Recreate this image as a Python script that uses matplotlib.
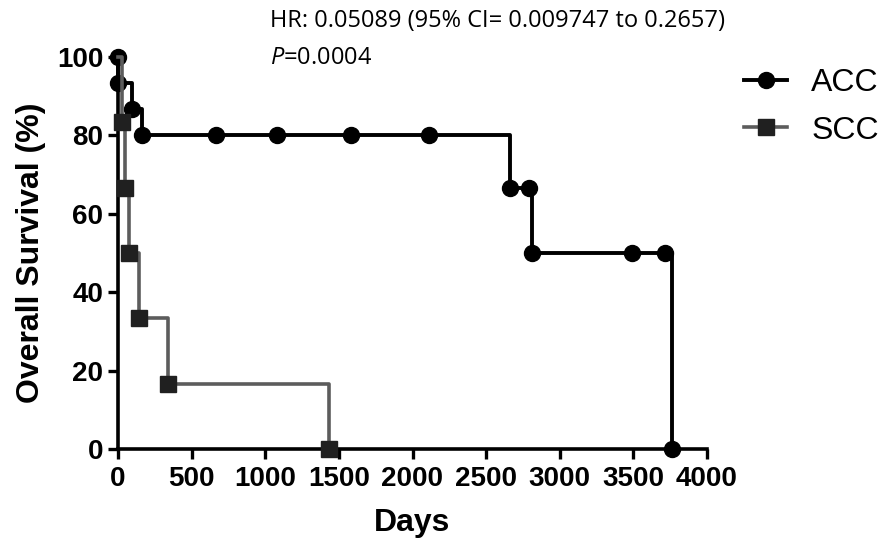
import matplotlib as mpl
mpl.use('Agg')
import matplotlib.pyplot as plt
from matplotlib.lines import Line2D

# Kaplan-Meier steps (days, survival %)
acc_days = [0, 0, 92, 165, 665, 1080, 1580, 2110, 2665, 2790, 2810, 3490, 3715, 3760]
acc_surv = [100, 93.33, 86.67, 80, 80, 80, 80, 80, 66.67, 66.67, 50, 50, 50, 0]

scc_days = [0, 28, 48, 72, 145, 342, 1430]
scc_surv = [100, 83.33, 66.67, 50, 33.33, 16.67, 0]

xticks = [0, 500, 1000, 1500, 2000, 2500, 3000, 3500, 4000]
yticks = [0, 20, 40, 60, 80, 100]

hr_text = "HR: 0.05089 (95% CI= 0.009747 to 0.2657)"
p_text = r"$\mathit{P}$=0.0004"

plt.rcParams['mathtext.fontset'] = 'custom'
plt.rcParams['mathtext.rm'] = 'Open Sans'
plt.rcParams['mathtext.it'] = 'Open Sans:italic'

acc_col = 'black'
scc_col = '#5c5c5c'
scc_mark = '#202020'

fig = plt.figure(figsize=(8.83, 5.46), dpi=100)
ax = fig.add_axes([118/883, 1 - 449/546, (707 - 118)/883, (449 - 57)/546])

ax.step(acc_days, acc_surv, where='post', color=acc_col, lw=2.8, clip_on=False, zorder=3)
ax.plot(acc_days, acc_surv, 'o', color=acc_col, ms=11.5, clip_on=False, zorder=4)

ax.step(scc_days, scc_surv, where='post', color=scc_col, lw=2.6, clip_on=False, zorder=5)
ax.plot(scc_days[1:], scc_surv[1:], 's', color=scc_mark, ms=11, clip_on=False, zorder=6)

ax.set_xlim(0, 4000)
ax.set_ylim(0, 100)
ax.set_xticks(xticks)
ax.set_yticks(yticks)
for sp in ['top', 'right']:
    ax.spines[sp].set_visible(False)
for sp in ['left', 'bottom']:
    ax.spines[sp].set_linewidth(2.6)
ax.tick_params(width=2.4, length=7.5, direction='out')
ax.tick_params(axis='x', pad=5)
ax.tick_params(axis='y', pad=3)

for lab in ax.get_xticklabels() + ax.get_yticklabels():
    lab.set_fontfamily('Liberation Sans')
    lab.set_fontweight('bold')
    lab.set_fontsize(20)

ax.set_xlabel("Days", family='Liberation Sans', weight='bold', size=23, labelpad=11)
ax.set_ylabel("Overall Survival (%)", family='Liberation Sans', weight='bold', size=23, labelpad=8)

fig.text(270/883, 1 - 9/546, hr_text, family='Open Sans', size=17, va='top', ha='left')
fig.text(270/883, 1 - 46/546, p_text, family='Open Sans', size=17, va='top', ha='left')

handles = [
    Line2D([], [], color=acc_col, lw=2.8, marker='o', ms=11.5),
    Line2D([], [], color=scc_col, lw=2.6, marker='s', ms=11, mfc=scc_mark, mec=scc_mark),
]
fig.legend(handles, ['ACC', 'SCC'], loc='upper left', bbox_to_anchor=(744/883, 1 - 68/546),
           frameon=False, prop={'family': 'Liberation Sans', 'size': 23},
           handlelength=1.35, handletextpad=0.75, labelspacing=0.55, borderpad=0,
           borderaxespad=0)

plt.savefig('out.png', dpi=100)
